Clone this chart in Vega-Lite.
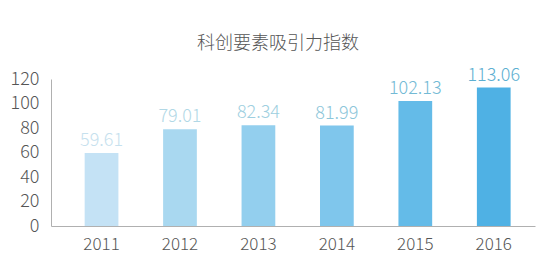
{
  "$schema": "https://vega.github.io/schema/vega-lite/v6.json",
  "autosize": "none",
  "width": 484,
  "height": 147,
  "padding": {"left": 51, "top": 79, "right": 17, "bottom": 50},
  "background": "white",
  "title": {
    "text": "科创要素吸引力指数",
    "font": "Noto Sans CJK SC",
    "fontSize": 18,
    "fontWeight": 300,
    "color": "#555555",
    "anchor": "middle",
    "dx": -15,
    "offset": 14
  },
  "data": {
    "values": [
      {"year": "2011", "value": 59.61, "label": "59.61"},
      {"year": "2012", "value": 79.01, "label": "79.01"},
      {"year": "2013", "value": 82.34, "label": "82.34"},
      {"year": "2014", "value": 81.99, "label": "81.99"},
      {"year": "2015", "value": 102.13, "label": "102.13"},
      {"year": "2016", "value": 113.06, "label": "113.06"}
    ]
  },
  "encoding": {
    "x": {
      "field": "year",
      "type": "nominal",
      "sort": null,
      "title": null,
      "scale": {"paddingInner": 0.57, "paddingOuter": 0.37, "align": 0.58},
      "axis": {
        "labelAngle": 0,
        "labelFont": "Noto Sans CJK SC",
        "labelFontSize": 17,
        "labelFontWeight": 300,
        "labelColor": "#555555",
        "labelPadding": 10,
        "ticks": false,
        "domainColor": "#b0b0b0",
        "domainWidth": 1,
        "grid": false
      }
    },
    "y": {
      "field": "value",
      "type": "quantitative",
      "title": null,
      "scale": {"domain": [0, 120], "nice": false},
      "axis": {
        "values": [0, 20, 40, 60, 80, 100, 120],
        "labelFont": "Noto Sans CJK SC",
        "labelFontSize": 18,
        "labelFontWeight": 300,
        "labelColor": "#555555",
        "labelPadding": 12,
        "ticks": false,
        "domainColor": "#b0b0b0",
        "domainWidth": 1,
        "grid": false
      }
    }
  },
  "layer": [
    {
      "mark": {"type": "bar"},
      "encoding": {
        "color": {
          "field": "year",
          "type": "nominal",
          "legend": null,
          "scale": {
            "domain": ["2011", "2012", "2013", "2014", "2015", "2016"],
            "range": ["#c4e2f5", "#a9d8f0", "#93cfee", "#7fc6ec", "#64bbe8", "#4fb1e4"]
          }
        }
      }
    },
    {
      "mark": {
        "type": "text",
        "baseline": "alphabetic",
        "dy": -7,
        "font": "Noto Sans CJK SC",
        "fontSize": 18,
        "fontWeight": 300
      },
      "encoding": {
        "text": {"field": "label"},
        "color": {
          "field": "year",
          "type": "nominal",
          "legend": null,
          "scale": {
            "domain": ["2011", "2012", "2013", "2014", "2015", "2016"],
            "range": ["#c6e1ee", "#b1d8e6", "#9ecfe0", "#8dc6da", "#73bad5", "#5dafd1"]
          }
        }
      }
    }
  ],
  "resolve": {"scale": {"color": "independent"}},
  "config": {"view": {"stroke": null}}
}
